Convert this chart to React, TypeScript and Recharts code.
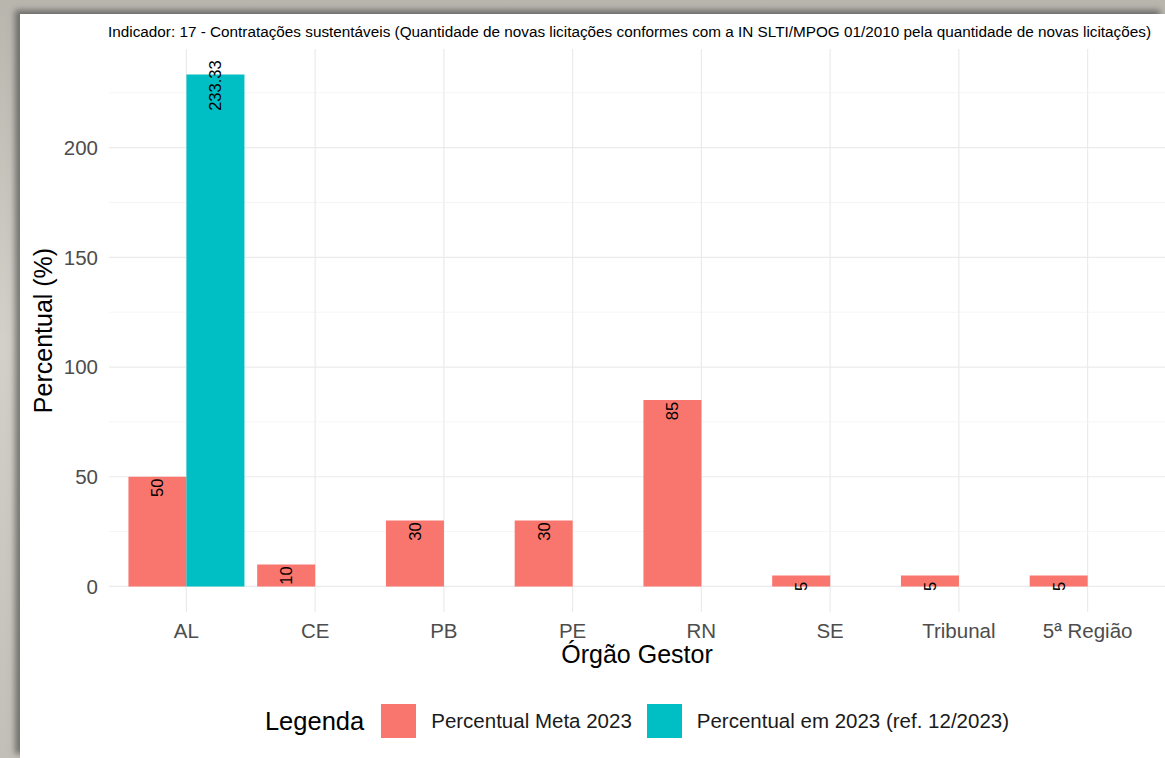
import React from 'react';
import { BarChart, Bar, XAxis, YAxis, CartesianGrid, Legend, LabelList } from 'recharts';

const categories = ['AL', 'CE', 'PB', 'PE', 'RN', 'SE', 'Tribunal', '5ª Região'];
const metaValues = [50, 10, 30, 30, 85, 5, 5, 5];
const realValues: (number | null)[] = [233.33, null, null, null, null, null, null, null];
const yTicks = [0, 50, 100, 150, 200];
const yMinorTicks = [25, 75, 125, 175, 225];

const META_NAME = 'Percentual Meta 2023';
const REAL_NAME = 'Percentual em 2023 (ref. 12/2023)';
const TITLE =
  'Indicador: 17 - Contratações sustentáveis (Quantidade de novas licitações conformes com a IN SLTI/MPOG 01/2010 pela quantidade de novas licitações)';

const data = categories.map((orgao, i) => ({
  orgao,
  meta: metaValues[i],
  real: realValues[i],
}));

// expansão de 5% no eixo contínuo, como no ggplot
const yMax = Math.max(...metaValues, ...(realValues.filter((v) => v != null) as number[]));
const yDomain = [-0.05 * yMax, 1.05 * yMax];

const FONT = '"Liberation Sans", Arial, Helvetica, sans-serif';

const XTick = ({ x, y, payload }: any) => (
  <text x={x} y={y + 26} textAnchor="middle" fontSize={20.5} fill="#4d4d4d" fontFamily={FONT}>
    {payload.value}
  </text>
);

const YTick = ({ x, y, payload }: any) => (
  <text x={x - 11} y={y} dy="0.355em" textAnchor="end" fontSize={20.5} fill="#4d4d4d" fontFamily={FONT}>
    {payload.value}
  </text>
);

const renderYTitle = (props: any) => {
  const vb = props.viewBox;
  const cx = vb.x + 42.5;
  const cy = vb.y + vb.height / 2;
  return (
    <text
      x={cx}
      y={cy}
      transform={`rotate(-90 ${cx} ${cy})`}
      textAnchor="middle"
      dominantBaseline="central"
      fontSize={25}
      fill="#000"
      fontFamily={FONT}
    >
      Percentual (%)
    </text>
  );
};

const renderXTitle = (props: any) => {
  const vb = props.viewBox;
  return (
    <text x={vb.x + vb.width / 2} y={vb.y + 51} textAnchor="middle" fontSize={25} fill="#000" fontFamily={FONT}>
      Órgão Gestor
    </text>
  );
};

const BarValueLabel = (props: any) => {
  const { x, y, width, value } = props;
  if (value == null) return null;
  const cx = x + width / 2;
  const cy = y + 11;
  return (
    <text
      x={cx}
      y={cy}
      transform={`rotate(-90 ${cx} ${cy})`}
      textAnchor="middle"
      dominantBaseline="central"
      fontSize={16.5}
      fill="#000"
      fontFamily={FONT}
    >
      {value}
    </text>
  );
};

const renderLegend = ({ payload }: any) => (
  <div
    style={{
      display: 'flex',
      alignItems: 'center',
      justifyContent: 'center',
      height: 34,
      fontFamily: FONT,
    }}
  >
    <span style={{ fontSize: 25.5, color: '#000', marginRight: 17 }}>Legenda</span>
    {(payload || []).map((entry: any, i: number) => (
      <span
        key={entry.value}
        style={{ display: 'flex', alignItems: 'center', marginRight: i < payload.length - 1 ? 15 : 0 }}
      >
        <span style={{ width: 35, height: 34, background: entry.color, marginRight: 15 }} />
        <span style={{ fontSize: 20.5, color: '#1a1a1a' }}>{entry.value}</span>
      </span>
    ))}
  </div>
);

export default function App() {
  return (
    <div
      style={{
        position: 'absolute',
        left: 0,
        top: 0,
        width: 1165,
        height: 758,
        overflow: 'hidden',
        fontFamily: FONT,
        background: 'linear-gradient(180deg, #b9b6ae 0%, #d3d0c9 45%, #c2bfb8 100%)',
      }}
    >
      <div
        style={{
          position: 'absolute',
          left: 20,
          top: 14,
          right: 0,
          bottom: 0,
          background: '#fff',
          boxShadow: '-5px -4px 6px rgba(50,50,50,0.55)',
        }}
      />
      <div
        style={{
          position: 'absolute',
          left: 108,
          top: 23,
          fontSize: 15.3,
          lineHeight: '18px',
          color: '#000',
          whiteSpace: 'nowrap',
        }}
      >
        {TITLE}
      </div>
      <div style={{ position: 'absolute', left: 0, top: 0 }}>
        <BarChart
          width={1165}
          height={758}
          data={data}
          margin={{ top: 49, right: 0, bottom: 0, left: 0 }}
          barCategoryGap="5%"
          barGap={0}
        >
          <CartesianGrid stroke="#ebebeb" strokeWidth={1.2} horizontalValues={yTicks} syncWithTicks />
          <CartesianGrid
            stroke="#f0f0f0"
            strokeWidth={0.7}
            vertical={false}
            horizontalValues={yMinorTicks}
            syncWithTicks
          />
          <XAxis
            dataKey="orgao"
            height={146}
            padding={{ left: 13, right: 13 }}
            axisLine={false}
            tickLine={false}
            tickSize={0}
            tickMargin={0}
            tick={<XTick />}
            interval={0}
            label={renderXTitle}
          />
          <YAxis
            width={109}
            type="number"
            domain={yDomain}
            ticks={yTicks}
            allowDataOverflow
            axisLine={false}
            tickLine={false}
            tickSize={0}
            tickMargin={0}
            tick={<YTick />}
            label={renderYTitle}
          />
          <Legend
            layout="horizontal"
            verticalAlign="middle"
            align="center"
            wrapperStyle={{ left: 109, top: 704, width: 1056, height: 34 }}
            content={renderLegend}
          />
          <Bar dataKey="meta" name={META_NAME} fill="#F8766D" isAnimationActive={false}>
            <LabelList dataKey="meta" content={BarValueLabel} />
          </Bar>
          <Bar dataKey="real" name={REAL_NAME} fill="#00BFC4" isAnimationActive={false}>
            <LabelList dataKey="real" content={BarValueLabel} />
          </Bar>
        </BarChart>
      </div>
    </div>
  );
}
